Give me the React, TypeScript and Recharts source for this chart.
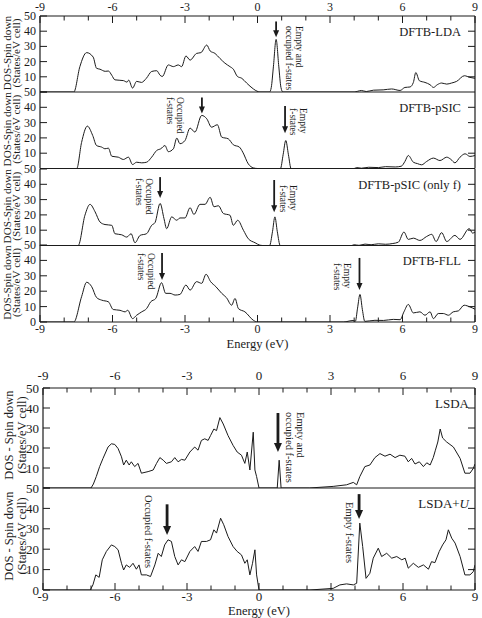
import React from "react";
import { Line, LineChart, ReferenceDot, ReferenceLine, XAxis, YAxis } from "recharts";

const FONT = '"Liberation Serif", "Times New Roman", serif';
const INK = "#1b1b1b";
const PAD_T = 20;
const PAD_B = 32;
const WIDTH = 482;

const energyTicks = [-9, -8, -7, -6, -5, -4, -3, -2, -1, 0, 1, 2, 3, 4, 5, 6, 7, 8, 9];
const dosTicks = [0, 10, 20, 30, 40, 50];
const sideTicks = [10, 20, 30, 40];

// spin-down DOS as [energy (eV), states/eV cell]
const dftbLda = [
  [-9, 0], [-7.6, 0], [-7.35, 16.7], [-7.07, 25.9], [-6.8, 23], [-6.66, 15.6], [-6.52, 15], [-6.3, 13.6],
  [-6.17, 13.8], [-6.03, 11], [-5.9, 8], [-5.55, 7.5], [-5.4, 6.5], [-5.33, 7.8], [-5.17, 2.6], [-5.0, 7],
  [-4.8, 6.3], [-4.6, 9], [-4.38, 13.5], [-4.17, 14], [-4.03, 11], [-3.94, 10.2], [-3.69, 17.8], [-3.48, 16.7],
  [-3.28, 17.8], [-3.14, 16.7], [-2.96, 23.7], [-2.79, 21], [-2.52, 25.4], [-2.34, 25.9], [-2.1, 30.9],
  [-1.96, 27], [-1.76, 25.4], [-1.55, 22], [-1.35, 19], [-1.14, 16.7], [-1.0, 15], [-0.83, 10.2], [-0.65, 9],
  [-0.45, 5.9], [-0.17, 2], [0.03, 0.2], [0.1, 0], [0.5, 0], [0.57, 3], [0.66, 17], [0.77, 34.6], [0.88, 17],
  [0.97, 3], [1.05, 0], [4.0, 0], [4.3, 1], [4.5, 0.3], [4.8, 1.2], [5.2, 1.4], [5.55, 2], [5.9, 1], [6.1, 3],
  [6.31, 3.3], [6.45, 6.3], [6.55, 12.8], [6.7, 7.4], [6.93, 6.3], [7.14, 4.8], [7.28, 3], [7.44, 4.8],
  [7.62, 5.9], [7.83, 5.2], [8.03, 5.9], [8.24, 7], [8.56, 10.7], [8.79, 9.6], [9, 9],
];

const dftbPsic = [
  [-9, 0], [-7.48, 0], [-7.28, 17], [-7.04, 27.7], [-6.82, 21.6], [-6.66, 15], [-6.45, 14], [-6.31, 12.9],
  [-6.17, 13.3], [-6.03, 8], [-5.76, 7.4], [-5.55, 5.9], [-5.34, 7.4], [-5.17, 2.6], [-5.0, 4.1], [-4.79, 3.7],
  [-4.59, 4.1], [-4.38, 7.4], [-4.17, 11.8], [-4.0, 12.9], [-3.83, 15], [-3.69, 11], [-3.48, 12.9],
  [-3.34, 19.9], [-3.21, 16.2], [-3.0, 18.3], [-2.79, 26.4], [-2.59, 23.8], [-2.31, 34.7], [-2.1, 32.5],
  [-1.9, 27], [-1.66, 28.6], [-1.48, 20.5], [-1.21, 19.4], [-1.0, 15.5], [-0.75, 14], [-0.61, 10.7],
  [-0.38, 3], [-0.17, 0.4], [0, 0], [0.95, 0], [1.06, 9], [1.17, 18.3], [1.28, 9], [1.39, 0], [4.0, 0],
  [4.1, 0.6], [4.3, 0.2], [4.6, 0.8], [5.0, 0.6], [5.3, 1.2], [5.7, 1], [5.95, 1.5], [6.1, 4.6], [6.24, 8.5],
  [6.45, 4.1], [6.62, 3.2], [6.79, 2.4], [7.0, 4.6], [7.28, 6.8], [7.55, 5.2], [7.83, 7.4], [8.0, 6],
  [8.17, 3.7], [8.38, 7.4], [8.59, 9.6], [8.79, 7.9], [9, 8.5],
];

const dftbPsicF = [
  [-9, 0], [-7.42, 0], [-7.14, 19.8], [-6.93, 26.9], [-6.72, 22], [-6.52, 15.4], [-6.31, 13.7], [-6.03, 13.2],
  [-5.9, 7.7], [-5.62, 7], [-5.41, 5.5], [-5.23, 7.7], [-5.07, 1.8], [-4.86, 6.6], [-4.59, 7.7], [-4.38, 13.2],
  [-4.24, 15], [-4.03, 27.5], [-3.87, 17.6], [-3.76, 11], [-3.55, 18.7], [-3.34, 16.5], [-3.21, 18], [-3.0, 18],
  [-2.79, 24.7], [-2.63, 20.3], [-2.38, 26.9], [-2.17, 26.9], [-1.96, 31.5], [-1.8, 25.3], [-1.62, 26],
  [-1.41, 20.9], [-1.14, 19.8], [-1.0, 13.2], [-0.82, 16.5], [-0.58, 9.9], [-0.38, 4.4], [-0.1, 1.8],
  [0.1, 0.2], [0.2, 0], [0.5, 0], [0.62, 9], [0.72, 18.7], [0.82, 9], [0.94, 0], [3.9, 0], [4.0, 0.5],
  [4.2, 0.1], [4.45, 0.9], [4.7, 0.5], [5.0, 1.1], [5.3, 0.8], [5.6, 1.3], [5.83, 2.2], [6.06, 8.8], [6.24, 4],
  [6.45, 4.8], [6.72, 3.3], [7.0, 5.9], [7.21, 7.3], [7.39, 2.6], [7.62, 8.4], [7.83, 2.6], [8.17, 6.6],
  [8.38, 4], [8.76, 11], [8.9, 8.1], [9, 8.8],
];

const dftbFll = [
  [-9, 0], [-7.6, 0], [-7.28, 16.4], [-7.07, 25.8], [-6.86, 22.9], [-6.66, 15.9], [-6.45, 14.2], [-6.17, 13.1],
  [-5.97, 8.1], [-5.69, 7.6], [-5.48, 6.6], [-5.37, 7.6], [-5.17, 2.2], [-5.0, 4.4], [-4.79, 6.6], [-4.59, 8.7],
  [-4.42, 13.1], [-4.21, 15.3], [-3.97, 25.5], [-3.8, 18.6], [-3.62, 18.6], [-3.41, 17.5], [-3.21, 17.9],
  [-2.96, 24], [-2.79, 20.7], [-2.52, 26.2], [-2.31, 25.1], [-2.13, 31], [-1.94, 26.2], [-1.72, 22.9],
  [-1.48, 18.6], [-1.28, 15.7], [-1.07, 10.9], [-0.93, 15.3], [-0.79, 8.7], [-0.52, 6.6], [-0.17, 1.1], [0, 0],
  [3.55, 0], [3.7, 0.3], [3.95, 1], [4.05, 0.5], [4.14, 9], [4.24, 17.9], [4.34, 8], [4.44, 0.4], [4.86, 1.1],
  [5.21, 1], [5.62, 1.7], [5.9, 1.5], [6.06, 6.6], [6.24, 11.4], [6.45, 5.9], [6.72, 6.6], [6.93, 4.4],
  [7.14, 6.6], [7.28, 2.2], [7.48, 5.5], [7.69, 5.5], [7.9, 4.4], [8.1, 6.6], [8.31, 7.2], [8.55, 10.9],
  [8.79, 9.8], [9, 8.3],
];

const lsda = [
  [-9, 0], [-7.0, 0], [-6.9, 2], [-6.78, 5.7], [-6.64, 10.7], [-6.5, 14.8], [-6.29, 20.5], [-6.15, 22.1],
  [-6.01, 21.8], [-5.87, 19.7], [-5.73, 15.6], [-5.64, 11.5], [-5.53, 13.9], [-5.41, 11.5], [-5.32, 13.1],
  [-5.18, 10.7], [-5.04, 12.3], [-4.9, 7.4], [-4.62, 8.2], [-4.41, 9], [-4.27, 12.3], [-4.13, 15.2],
  [-3.99, 13.9], [-3.86, 12.3], [-3.65, 13.1], [-3.51, 15.2], [-3.37, 13.1], [-3.23, 14.3], [-3.09, 13.9],
  [-2.88, 18], [-2.68, 20.5], [-2.54, 18.9], [-2.4, 23.8], [-2.26, 24.6], [-2.12, 23.8], [-2.02, 26.2],
  [-1.88, 29.5], [-1.77, 28.7], [-1.63, 35.2], [-1.49, 32], [-1.29, 26.2], [-1.08, 21.3], [-0.91, 18],
  [-0.73, 16.4], [-0.59, 12.3], [-0.49, 18], [-0.38, 9], [-0.24, 27.9], [-0.17, 9], [-0.1, 5.7], [0, 0],
  [0.76, 0], [0.84, 13.9], [0.92, 0], [2.1, 0], [3.09, 0.8], [3.65, 1.6], [3.93, 2.8], [4.07, 1.6], [4.2, 5.7],
  [4.41, 10.7], [4.62, 11.5], [4.83, 15.2], [5.04, 17.2], [5.25, 15.9], [5.46, 16.9], [5.67, 15.2],
  [5.87, 16.4], [6.08, 15.9], [6.22, 13.1], [6.36, 14.8], [6.5, 12], [6.68, 13.1], [6.85, 10.7], [6.99, 12.6],
  [7.13, 11.5], [7.26, 15.2], [7.35, 18.9], [7.45, 23], [7.55, 29.5], [7.65, 25], [7.82, 23], [8.1, 20.5],
  [8.38, 14.8], [8.58, 7.4], [8.79, 7.4], [8.93, 9.8], [9, 12],
];

const lsdaU = [
  [-9, 0], [-7.03, 0], [-6.92, 2.5], [-6.8, 7.4], [-6.66, 6.2], [-6.53, 14.8], [-6.36, 18.9], [-6.15, 22.1],
  [-6.01, 21.3], [-5.87, 19.7], [-5.73, 13.1], [-5.64, 9.8], [-5.53, 12.3], [-5.39, 11.1], [-5.25, 13.1],
  [-5.11, 10.2], [-5.0, 12.3], [-4.9, 7.4], [-4.69, 7.4], [-4.52, 6.6], [-4.34, 12.3], [-4.2, 18], [-4.07, 16.4],
  [-3.93, 22.1], [-3.79, 24.6], [-3.65, 23.8], [-3.51, 16.4], [-3.37, 12.3], [-3.23, 14.8], [-3.09, 13.9],
  [-2.88, 18.9], [-2.68, 21.3], [-2.54, 18.9], [-2.4, 23.8], [-2.19, 23.8], [-2.02, 24.6], [-1.88, 29.5],
  [-1.77, 27.9], [-1.6, 35.2], [-1.47, 32], [-1.29, 26.2], [-1.08, 21.3], [-0.91, 18.9], [-0.73, 17.2],
  [-0.59, 13.1], [-0.49, 14.8], [-0.38, 7.4], [-0.27, 13.1], [-0.17, 19.7], [-0.1, 7.4], [0, 0], [2.12, 0],
  [3.09, 0.8], [3.37, 2.5], [3.65, 3], [3.93, 2.5], [4.07, 3.3], [4.2, 32.8], [4.32, 21.3], [4.46, 5.7],
  [4.62, 8.2], [4.76, 15.6], [4.97, 20.5], [5.11, 16.4], [5.32, 18], [5.53, 15.6], [5.74, 16.4], [5.95, 14.8],
  [6.09, 15.6], [6.22, 10.7], [6.43, 13.1], [6.64, 11.1], [6.85, 12.3], [7.06, 10.2], [7.19, 13.9],
  [7.33, 13.4], [7.51, 18.9], [7.65, 22.1], [7.79, 24.6], [7.89, 29.5], [8.03, 25.4], [8.17, 23], [8.38, 16.4],
  [8.58, 7.4], [8.79, 7.4], [8.93, 9], [9, 12.3],
];

const topNames = ["DFTB-LDA", "DFTB-pSIC", "DFTB-pSIC (only f)", "DFTB-FLL"];
const bottomNames = ["LSDA", "LSDA+U"];

// arrows as [energy, tail dos, head dos]
const topArrows = [
  [[0.77, 46.4, 36]],
  [[-2.3, 46.4, 36], [1.14, 40.8, 23]],
  [[-4.03, 44.7, 31], [0.69, 42.8, 21.7]],
  [[-3.95, 44.8, 27.3], [4.22, 41.6, 20.8]],
];
const bottomArrows = [
  [[0.79, 37.5, 18]],
  [[-3.83, 42, 27], [4.17, 47, 34.8]],
];

type Note = { e: number; dos: number; lines: string[] };
const topNotes: Note[][] = [
  [{ e: 1.59, dos: 43.4, lines: ["Empty and", "occupied f-states"] }],
  [
    { e: -3.34, dos: 46.7, lines: ["Occupied", "f-states"] },
    { e: 1.74, dos: 39.5, lines: ["Empty", "f-states"] },
  ],
  [
    { e: -4.63, dos: 44, lines: ["Occupied", "f-states"] },
    { e: 1.33, dos: 39.5, lines: ["Empty", "f-states"] },
  ],
  [
    { e: -4.54, dos: 44.8, lines: ["Occupied", "f-states"] },
    { e: 3.57, dos: 38.3, lines: ["Empty", "f-states"] },
  ],
];
const bottomNotes: Note[][] = [
  [{ e: 1.57, dos: 38, lines: ["Empty and", "occupied f-states"] }],
  [
    { e: -4.73, dos: 46.6, lines: ["Occupied f-states"] },
    { e: 3.64, dos: 43.1, lines: ["Empty f-states"] },
  ],
];

type Group = {
  left: number;
  right: number;
  edges: number[];
  curve: "monotone" | "linear";
  names: string[];
  series: number[][][];
  arrows: number[][][];
  notes: Note[][];
  nameAt: number[];
  title: string[];
  titleX: number[];
  titleShift: number;
  titleFont: number;
  tickFont: number;
  nameFont: number;
  noteFont: number;
  noteGap: number;
  topGap: number;
  bottomGap: number;
  energyFont: number;
  energyGap: number;
  shaft: number;
  headW: number;
  headL: number;
};

const topGroup: Group = {
  left: 40,
  right: 475,
  edges: [16, 92, 168.5, 245, 322],
  curve: "monotone",
  names: topNames,
  series: [dftbLda, dftbPsic, dftbPsicF, dftbFll],
  arrows: topArrows,
  notes: topNotes,
  nameAt: [8.42, 39.5],
  title: ["DOS-Spin down", "(States/eV cell)"],
  titleX: [10.5, 20],
  titleShift: -1,
  titleFont: 11.2,
  tickFont: 12,
  nameFont: 12.5,
  noteFont: 9.5,
  noteGap: 10,
  topGap: 5.5,
  bottomGap: 11,
  energyFont: 12.5,
  energyGap: 25.5,
  shaft: 1.8,
  headW: 6,
  headL: 7,
};

const bottomGroup: Group = {
  left: 43,
  right: 475,
  edges: [388, 488, 590],
  curve: "linear",
  names: bottomNames,
  series: [lsda, lsdaU],
  arrows: bottomArrows,
  notes: bottomNotes,
  nameAt: [8.75, 42.5],
  title: ["DOS - Spin down", "(States/eV cell)"],
  titleX: [13, 26],
  titleShift: -3,
  titleFont: 12.5,
  tickFont: 13,
  nameFont: 13,
  noteFont: 10.5,
  noteGap: 11,
  topGap: 8.5,
  bottomGap: 10.8,
  energyFont: 12.5,
  energyGap: 25,
  shaft: 2.8,
  headW: 8,
  headL: 9,
};

const textProps = { fontFamily: FONT, fill: INK };
const frame = { stroke: INK, strokeWidth: 1.2 };

// tick mark + label on the bottom/top frame line
const xTick = (g: Group, side: "top" | "bottom", v: number) => (p: any) => {
  const major = v % 3 === 0;
  const dir = side === "bottom" ? -1 : 1;
  return (
    <g>
      <line x1={p.cx} x2={p.cx} y1={p.cy} y2={p.cy + dir * (major ? 7 : 4.5)} stroke={INK} strokeWidth={1} />
      {major && (
        <text
          x={p.cx}
          y={side === "bottom" ? p.cy + g.bottomGap : p.cy - g.topGap}
          textAnchor="middle"
          fontSize={g.tickFont}
          {...textProps}
        >
          {v}
        </text>
      )}
    </g>
  );
};

const yTick = (g: Group, v: number, showZero: boolean) => (p: any) => (
  <g>
    <line x1={p.cx} x2={p.cx + 7} y1={p.cy} y2={p.cy} stroke={INK} strokeWidth={1} />
    {(v !== 0 || showZero) && (
      <text x={p.cx - 4} y={p.cy} textAnchor="end" dominantBaseline="central" fontSize={g.tickFont} {...textProps}>
        {v}
      </text>
    )}
  </g>
);

const rightTick = (p: any) => <line x1={p.cx} x2={p.cx - 7} y1={p.cy} y2={p.cy} stroke={INK} strokeWidth={1} />;

const arrowShape = (g: Group) => (p: any) => {
  const x = p.x1;
  const tail = Math.min(p.y1, p.y2);
  const head = Math.max(p.y1, p.y2);
  return (
    <g>
      <line x1={x} x2={x} y1={tail} y2={head - g.headL + 1} stroke={INK} strokeWidth={g.shaft} />
      <polygon
        points={`${x - g.headW / 2},${head - g.headL} ${x + g.headW / 2},${head - g.headL} ${x},${head}`}
        fill={INK}
      />
    </g>
  );
};

const noteShape = (g: Group, lines: string[]) => (p: any) => (
  <text x={p.cx} y={p.cy} transform={`rotate(90 ${p.cx} ${p.cy})`} fontSize={g.noteFont} {...textProps}>
    {lines.map((s, i) => (
      <tspan key={i} x={p.cx} dy={i === 0 ? 0 : g.noteGap}>
        {s}
      </tspan>
    ))}
  </text>
);

const nameShape = (g: Group, name: string) => (p: any) => (
  <text x={p.cx} y={p.cy} textAnchor="end" dominantBaseline="central" fontSize={g.nameFont} {...textProps}>
    {name.endsWith("+U") ? (
      <>
        {name.slice(0, -1)}
        <tspan fontStyle="italic">U</tspan>
      </>
    ) : (
      name
    )}
  </text>
);

// rotated two-line axis title, anchored at the middle of the left frame line
const titleShape = (g: Group) => (p: any) => {
  const cy = p.cy + g.titleShift;
  return (
    <g>
      {g.title.map((s, i) => {
        const x = p.cx - g.left + g.titleX[i];
        return (
          <text
            key={i}
            x={x}
            y={cy}
            transform={`rotate(-90 ${x} ${cy})`}
            textAnchor="middle"
            fontSize={g.titleFont}
            {...textProps}
          >
            {s}
          </text>
        );
      })}
    </g>
  );
};

const energyShape = (g: Group) => (p: any) => (
  <text x={p.cx} y={p.cy + g.energyGap} textAnchor="middle" fontSize={g.energyFont} {...textProps}>
    Energy (eV)
  </text>
);

function DosPanel({ g, i }: { g: Group; i: number }) {
  const top = g.edges[i];
  const plotH = g.edges[i + 1] - top;
  const first = i === 0;
  const last = i === g.series.length - 1;
  const rows = g.series[i].map(([e, dos]) => ({ e, dos }));

  return (
    <div style={{ position: "absolute", left: 0, top: top - PAD_T }}>
      <LineChart
        width={WIDTH}
        height={PAD_T + plotH + PAD_B}
        data={rows}
        margin={{ top: PAD_T, right: WIDTH - g.right, bottom: PAD_B, left: g.left }}
      >
        <XAxis dataKey="e" type="number" domain={[-9, 9]} allowDataOverflow hide />
        <YAxis type="number" domain={[0, 50]} allowDataOverflow hide />
        <Line dataKey="dos" type={g.curve} dot={false} stroke={INK} strokeWidth={1} isAnimationActive={false} />

        <ReferenceLine x={-9} {...frame} />
        <ReferenceLine x={9} {...frame} />
        <ReferenceLine y={0} {...frame} />
        {first && <ReferenceLine y={50} {...frame} />}

        {first &&
          energyTicks.map((v) => (
            <ReferenceDot key={`xt${v}`} x={v} y={50} r={0} shape={xTick(g, "top", v)} />
          ))}
        {last &&
          energyTicks.map((v) => (
            <ReferenceDot key={`xb${v}`} x={v} y={0} r={0} shape={xTick(g, "bottom", v)} />
          ))}
        {dosTicks.map((v) => (
          <ReferenceDot key={`yl${v}`} x={-9} y={v} r={0} shape={yTick(g, v, last)} />
        ))}
        {sideTicks.map((v) => (
          <ReferenceDot key={`yr${v}`} x={9} y={v} r={0} shape={rightTick} />
        ))}
        <ReferenceDot x={-9} y={25} r={0} shape={titleShape(g)} />
        {last && <ReferenceDot x={0} y={0} r={0} shape={energyShape(g)} />}

        {g.arrows[i].map(([e, tail, head], k) => (
          <ReferenceLine
            key={`a${k}`}
            segment={[
              { x: e, y: tail },
              { x: e, y: head },
            ]}
            shape={arrowShape(g)}
          />
        ))}
        {g.notes[i].map((n, k) => (
          <ReferenceDot key={`n${k}`} x={n.e} y={n.dos} r={0} shape={noteShape(g, n.lines)} />
        ))}
        <ReferenceDot x={g.nameAt[0]} y={g.nameAt[1]} r={0} shape={nameShape(g, g.names[i])} />
      </LineChart>
    </div>
  );
}

export default function App() {
  return (
    <div
      style={{
        position: "absolute",
        left: 0,
        top: 0,
        width: WIDTH,
        height: 618,
        overflow: "hidden",
        background: "#fff",
        fontFamily: FONT,
      }}
    >
      {topGroup.series.map((_, i) => (
        <DosPanel key={`t${i}`} g={topGroup} i={i} />
      ))}
      {bottomGroup.series.map((_, i) => (
        <DosPanel key={`b${i}`} g={bottomGroup} i={i} />
      ))}
    </div>
  );
}
